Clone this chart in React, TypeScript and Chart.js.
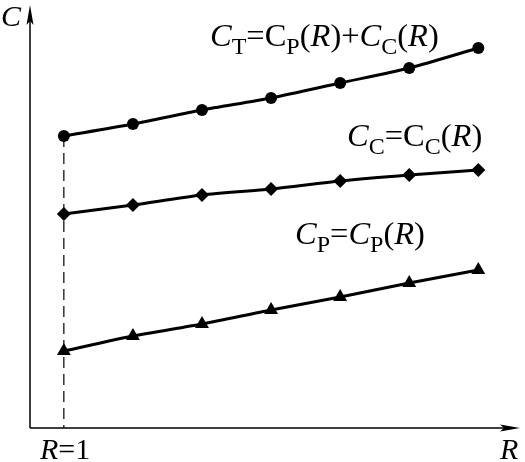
import React, { useEffect, useRef } from "react";
import { Chart, registerables } from "chart.js";

Chart.register(...registerables);

const rValues = [1, 2, 3, 4, 5, 6, 7];
const totalCost = [29.2, 30.4, 31.8, 33.0, 34.5, 36.0, 38.0];
const carryingCost = [21.4, 22.3, 23.3, 23.9, 24.7, 25.3, 25.8];
const productionCost = [7.7, 9.2, 10.4, 11.8, 13.1, 14.5, 15.8];

type Seg = { t: string; it?: boolean; sub?: boolean };

const FONT = "\"Liberation Serif\"";

function drawRich(ctx: CanvasRenderingContext2D, segs: Seg[], x: number, y: number, size: number) {
  let cx = x;
  ctx.textBaseline = "alphabetic";
  ctx.textAlign = "left";
  for (const s of segs) {
    const sz = s.sub ? size * 0.74 : size;
    ctx.font = `${s.it ? "italic " : ""}${sz}px ${FONT}`;
    const dy = s.sub ? size * 0.24 : 0;
    ctx.fillText(s.t, cx, y + dy);
    cx += ctx.measureText(s.t).width;
  }
}

const annotPlugin = {
  id: "annot",
  afterDraw(chart: any) {
    const { ctx, chartArea } = chart;
    const { left, right, top, bottom } = chartArea;
    ctx.save();
    ctx.strokeStyle = "#000";
    ctx.fillStyle = "#000";
    ctx.lineWidth = 1.5;
    ctx.beginPath();
    ctx.moveTo(left, bottom);
    ctx.lineTo(left, top + 4);
    ctx.moveTo(left, bottom);
    ctx.lineTo(right - 4, bottom);
    ctx.stroke();
    ctx.beginPath();
    ctx.moveTo(left, top - 3);
    ctx.lineTo(left - 3.5, top + 17);
    ctx.lineTo(left, top + 13);
    ctx.lineTo(left + 3.5, top + 17);
    ctx.closePath();
    ctx.fill();
    ctx.beginPath();
    ctx.moveTo(right + 3, bottom);
    ctx.lineTo(right - 17, bottom - 3.5);
    ctx.lineTo(right - 13, bottom);
    ctx.lineTo(right - 17, bottom + 3.5);
    ctx.closePath();
    ctx.fill();

    const S = 30;
    const L = 32.5;
    drawRich(ctx, [{ t: "C", it: true }], 1, 26, S);
    drawRich(ctx, [{ t: "R", it: true }], 500, 459, S);
    drawRich(ctx, [{ t: "R", it: true }, { t: "=1" }], 40, 459, S);
    drawRich(
      ctx,
      [
        { t: "C", it: true }, { t: "T", sub: true }, { t: "=" },
        { t: "C" }, { t: "P", sub: true }, { t: "(" }, { t: "R", it: true }, { t: ")+" },
        { t: "C", it: true }, { t: "C", sub: true }, { t: "(" }, { t: "R", it: true }, { t: ")" },
      ],
      210, 46, L
    );
    drawRich(
      ctx,
      [
        { t: "C", it: true }, { t: "C", sub: true }, { t: "=" },
        { t: "C" }, { t: "C", sub: true }, { t: "(" }, { t: "R", it: true }, { t: ")" },
      ],
      347, 146, L
    );
    drawRich(
      ctx,
      [
        { t: "C", it: true }, { t: "P", sub: true }, { t: "=" },
        { t: "C", it: true }, { t: "P", sub: true }, { t: "(" }, { t: "R", it: true }, { t: ")" },
      ],
      295, 244, L
    );
    ctx.restore();
  },
};

export default function App() {
  const ref = useRef<HTMLCanvasElement | null>(null);
  useEffect(() => {
    if (!ref.current) return;
    const mk = (vals: number[]) => rValues.map((x, i) => ({ x, y: vals[i] }));
    const common = {
      borderColor: "#000",
      backgroundColor: "#000",
      pointBackgroundColor: "#000",
      pointBorderColor: "#000",
      borderWidth: 3,
      tension: 0.25,
      pointBorderWidth: 0,
    };
    const chart = new Chart(ref.current, {
      type: "line",
      data: {
        datasets: [
          {
            label: "dash",
            data: [{ x: rValues[0], y: totalCost[0] }, { x: rValues[0], y: 0 }],
            borderColor: "#000",
            borderWidth: 1.2,
            borderDash: [11, 6],
            pointRadius: 0,
          },
          { label: "CT", data: mk(totalCost), ...common, pointStyle: "circle", pointRadius: 6 },
          { label: "CC", data: mk(carryingCost), ...common, pointStyle: "rectRot", pointRadius: 7 },
          { label: "CP", data: mk(productionCost), ...common, pointStyle: "triangle", pointRadius: 8 },
        ],
      },
      options: {
        responsive: false,
        animation: false,
        layout: { padding: { left: 30, top: 8, right: 5, bottom: 34 } },
        plugins: { legend: { display: false }, tooltip: { enabled: false } },
        scales: {
          x: { type: "linear", min: 0.51, max: 7.56, display: false },
          y: { type: "linear", min: 0, max: 42, display: false },
        },
      },
      plugins: [annotPlugin],
    } as any);
    return () => chart.destroy();
  }, []);
  return (
    <div style={{ position: "fixed", left: 0, top: 0, width: 525, height: 462, background: "#fff" }}>
      <canvas ref={ref} width={525} height={462} />
    </div>
  );
}
